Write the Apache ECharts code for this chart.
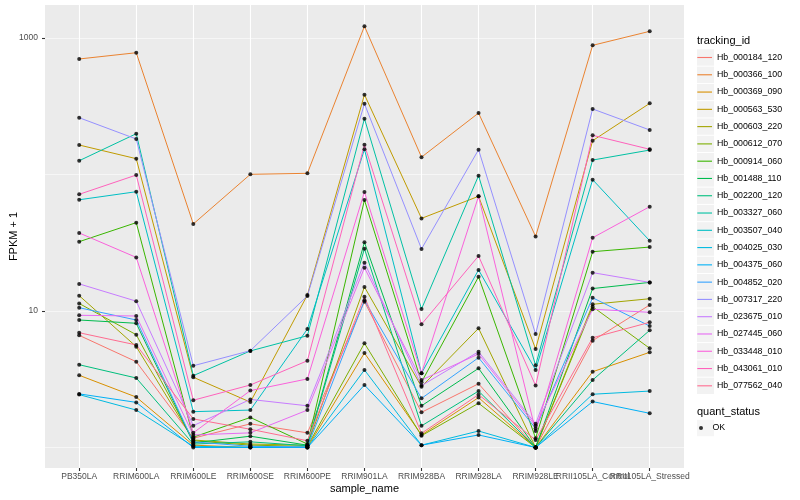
<!DOCTYPE html>
<html><head><meta charset="utf-8">
<script src="https://cdn.jsdelivr.net/npm/echarts@6/dist/echarts.min.js"></script>
<style>html,body{margin:0;padding:0;background:#fff}#c{width:800px;height:500px}</style>
</head><body><div id="c"></div>
<script>
const categories = ['PB350LA','RRIM600LA','RRIM600LE','RRIM600SE','RRIM600PE','RRIM901LA','RRIM928BA','RRIM928LA','RRIM928LE','RRII105LA_Control','RRII105LA_Stressed'];

const Hb_000184_120 = [6.63, 4.25, 1.17, 1.49, 1.28, 11.7, 1.81, 2.93, 1.00, 6.06, 11.07];
const Hb_000366_100 = [702, 780, 43.4, 100.3, 102, 1219, 134, 282, 35.2, 884, 1119];
const Hb_000369_090 = [3.38, 2.34, 1.04, 1.00, 1.00, 4.92, 1.235, 2.32, 1.00, 3.59, 4.98];
const Hb_000563_530 = [164.4, 130.6, 3.27, 2.15, 13.1, 384.6, 47.7, 69.2, 5.27, 176.9, 332];
const Hb_000603_220 = [12.95, 5.48, 1.135, 1.06, 1.04, 15.0, 2.79, 7.47, 1.00, 11.2, 12.3];
const Hb_000612_070 = [11.35, 6.70, 1.12, 1.04, 1.02, 5.80, 1.22, 2.11, 1.00, 10.75, 5.33];
const Hb_000914_060 = [32.2, 44.4, 1.19, 1.66, 1.06, 65.0, 3.01, 17.8, 1.17, 27.2, 29.4];
const Hb_001488_110 = [8.59, 8.13, 1.08, 1.21, 1.04, 31.9, 2.02, 3.80, 1.00, 14.6, 16.2];
const Hb_002200_120 = [4.04, 3.23, 1.06, 1.10, 1.03, 28.6, 1.44, 2.59, 1.00, 3.12, 7.22];
const Hb_003327_060 = [126.2, 199, 3.36, 5.10, 6.59, 256.5, 10.34, 98, 4.00, 127.6, 151];
const Hb_003507_040 = [65.3, 74.8, 1.83, 1.88, 7.38, 153, 3.50, 20.0, 3.70, 91.6, 32.7];
const Hb_004025_030 = [2.44, 1.88, 1.02, 1.005, 1.00, 3.70, 1.04, 1.32, 1.00, 2.455, 2.59];
const Hb_004375_060 = [2.47, 2.14, 1.00, 1.00, 1.00, 2.87, 1.04, 1.235, 1.00, 2.17, 1.78];
const Hb_004852_020 = [10.57, 8.59, 1.10, 1.02, 1.01, 11.97, 2.29, 4.55, 1.38, 12.5, 7.76];
const Hb_007317_220 = [260.6, 182, 3.97, 5.12, 12.9, 330, 28.5, 152, 6.78, 302, 212];
const Hb_023675_010 = [15.8, 11.8, 1.445, 2.25, 2.02, 22.6, 2.84, 5.03, 1.49, 19.1, 16.2];
const Hb_027445_060 = [9.30, 9.19, 1.235, 1.28, 1.88, 20.75, 3.12, 4.84, 1.44, 10.3, 9.78];
const Hb_033448_010 = [37.3, 24.7, 1.28, 2.61, 3.18, 74.5, 3.50, 69.2, 1.32, 34.4, 58.1];
const Hb_043061_010 = [71.6, 99.1, 2.22, 2.87, 4.32, 165, 7.99, 25.3, 2.84, 193.7, 153];
const Hb_077562_040 = [6.93, 5.64, 1.62, 1.36, 1.12, 12.7, 1.27, 2.44, 1.135, 6.37, 8.26];

const seriesNames = ['Hb_000184_120','Hb_000366_100','Hb_000369_090','Hb_000563_530','Hb_000603_220','Hb_000612_070','Hb_000914_060','Hb_001488_110','Hb_002200_120','Hb_003327_060','Hb_003507_040','Hb_004025_030','Hb_004375_060','Hb_004852_020','Hb_007317_220','Hb_023675_010','Hb_027445_060','Hb_033448_010','Hb_043061_010','Hb_077562_040'];
const seriesValues = [Hb_000184_120,Hb_000366_100,Hb_000369_090,Hb_000563_530,Hb_000603_220,Hb_000612_070,Hb_000914_060,Hb_001488_110,Hb_002200_120,Hb_003327_060,Hb_003507_040,Hb_004025_030,Hb_004375_060,Hb_004852_020,Hb_007317_220,Hb_023675_010,Hb_027445_060,Hb_033448_010,Hb_043061_010,Hb_077562_040];
const yTickValues = [10, 1000];
const statusName = 'OK';

const palette = ['#F8766D','#EA8331','#D89000','#C09B00','#A3A500','#7CAE00','#39B600','#00BB4E','#00BF7D','#00C1A3','#00BFC4','#00BAE0','#00B0F6','#35A2FF','#9590FF','#C77CFF','#E76BF3','#FA62DB','#FF62BC','#FF6C90'];
const FONT = 'Liberation Sans, Arial, Helvetica, sans-serif';
const Y_MIN = 0.7075, Y_MAX = 1745;
const STEP = 17.28;

const lineSeries = seriesNames.map((n, i) => ({
  name: n, type: 'line', xAxisIndex: 1, yAxisIndex: 2,
  data: seriesValues[i], color: palette[i],
  symbol: 'none', showSymbol: false, silent: true,
  lineStyle: { width: 1, color: palette[i] }, z: 2
}));
const points = [];
seriesValues.forEach(arr => arr.forEach((v, i) => points.push([categories[i], v])));

const chart = echarts.init(document.getElementById('c'), null, { renderer: 'canvas' });
chart.setOption({
  animation: false,
  backgroundColor: '#ffffff',
  title: [
    { text: 'tracking_id', left: 697, top: 35, padding: 0, textStyle: { fontSize: 11, fontWeight: 'normal', color: '#000', fontFamily: FONT } },
    { text: 'quant_status', left: 697, top: 406.5, padding: 0, textStyle: { fontSize: 11, fontWeight: 'normal', color: '#000', fontFamily: FONT } }
  ],
  legend: [
    { orient: 'vertical', left: 697, top: 49.35, padding: 0, itemGap: STEP - 16.3, itemWidth: 17, itemHeight: 16.3,
      icon: 'rect', selectedMode: false, data: seriesNames, formatter: () => '', z: 3,
      itemStyle: { color: '#F2F2F2', borderWidth: 0 }, textStyle: { fontSize: 8 } },
    { orient: 'vertical', left: 697.3, top: 48.86, padding: 0, itemGap: 0, itemWidth: 14.7, itemHeight: 1.1,
      icon: 'rect', selectedMode: false, data: seriesNames, z: 4,
      itemStyle: { borderWidth: 0 }, textStyle: { fontSize: 8.8, color: '#000', lineHeight: STEP, fontFamily: FONT } },
    { orient: 'vertical', left: 697, top: 419.85, padding: 0, itemWidth: 17, itemHeight: 16.3,
      icon: 'rect', selectedMode: false, data: [statusName], formatter: () => '', z: 3,
      itemStyle: { color: '#F2F2F2', borderWidth: 0 }, textStyle: { fontSize: 8 } },
    { orient: 'vertical', left: 699, top: 419.36, padding: 0, itemWidth: 13, itemHeight: 4,
      icon: 'circle', selectedMode: false, data: [statusName], z: 4,
      itemStyle: { color: '#000', borderWidth: 0 }, textStyle: { fontSize: 8.8, color: '#000', lineHeight: STEP, fontFamily: FONT } }
  ],
  grid: [
    { left: 45, top: 5, width: 639, height: 463, show: true, backgroundColor: '#EBEBEB', borderWidth: 0, containLabel: false, outerBoundsMode: 'none' },
    { left: 79.2, top: 5, width: 570.5, height: 463, show: false, containLabel: false, outerBoundsMode: 'none' }
  ],
  xAxis: [
    { gridIndex: 0, type: 'value', show: false, min: 0, max: 1 },
    { gridIndex: 1, type: 'category', data: categories, boundaryGap: false,
      axisLine: { show: false },
      axisTick: { show: true, length: 3, lineStyle: { color: '#333333', width: 1.1 } },
      axisLabel: { interval: 0, fontSize: 8.5, color: '#4D4D4D', margin: 4.5, fontFamily: FONT, hideOverlap: false },
      splitLine: { show: true, lineStyle: { color: '#ffffff', width: 1.1 } },
      name: 'sample_name', nameLocation: 'middle', nameGap: 15, nameMoveOverlap: false,
      nameTextStyle: { fontSize: 11, color: '#000', fontFamily: FONT } }
  ],
  yAxis: [
    { gridIndex: 0, type: 'log', position: 'left', min: Y_MIN, max: Y_MAX,
      axisLine: { show: false }, axisTick: { show: false }, axisLabel: { show: false },
      splitLine: { show: true, showMinLine: false, showMaxLine: false, lineStyle: { color: '#ffffff', width: 0.55 } } },
    { gridIndex: 0, type: 'log', position: 'left', min: Y_MIN, max: Y_MAX,
      axisLine: { show: false },
      axisTick: { show: true, customValues: yTickValues, length: 3, lineStyle: { color: '#333333', width: 1.1 } },
      axisLabel: { customValues: yTickValues, fontSize: 8.5, color: '#4D4D4D', margin: 7, fontFamily: FONT, formatter: v => String(v) },
      splitLine: { show: true, showMinLine: false, showMaxLine: false, lineStyle: { color: '#ffffff', width: 1.1 } },
      name: 'FPKM + 1', nameLocation: 'middle', nameGap: 26, nameMoveOverlap: false,
      nameTextStyle: { fontSize: 11, color: '#000', fontFamily: FONT } },
    { gridIndex: 1, type: 'log', min: Y_MIN, max: Y_MAX, show: false }
  ],
  series: lineSeries.concat([{
    name: statusName, type: 'scatter', xAxisIndex: 1, yAxisIndex: 2, data: points,
    symbol: 'circle', symbolSize: 4, itemStyle: { color: '#000' }, z: 3, silent: true
  }])
});
</script></body></html>
